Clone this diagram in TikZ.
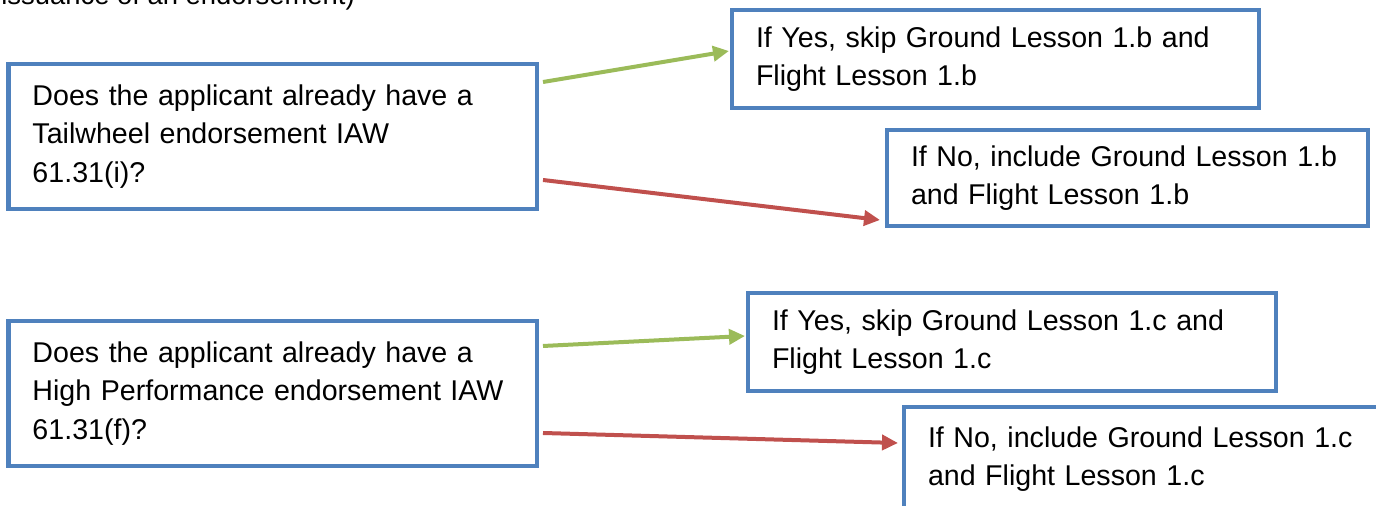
\documentclass[tikz,border=0pt]{standalone}
\usepackage{fontspec}
\setmainfont{Liberation Sans}
\usepackage{xcolor}
\usetikzlibrary{arrows.meta, positioning, calc}

\definecolor{boxblue}{HTML}{4F81BD}
\definecolor{yesgreen}{HTML}{9BBB59}
\definecolor{nored}{HTML}{C0504D}

\begin{document}
\begin{tikzpicture}[
    x=0.5pt, y=-0.5pt,
    font=\fontsize{14.3pt}{19.3pt}\selectfont,
    qbox/.style={draw=boxblue, line width=2.25pt, fill=white, anchor=north west, outer sep=0pt,
        inner xsep=12pt, align=left, minimum width=264.25pt, minimum height=72.5pt, text width=240.25pt},
    ansbox/.style={draw=boxblue, line width=2.25pt, fill=white, anchor=north west, outer sep=0pt,
        inner xsep=12pt, align=left},
    yesarrow/.style={-{Triangle[length=8pt, width=7.5pt]}, line width=2pt, color=yesgreen},
    noarrow/.style={-{Triangle[length=8pt, width=7.5pt]}, line width=2pt, color=nored}
]
\clip (0,0) rectangle (1376,506);

% === TEXT CUT AT THE TOP ===
\node[anchor=base west, inner sep=0pt, font=\fontsize{13.7pt}{17pt}\selectfont] (topnote) at (1,5)
    {issuance of an endorsement)};

% === TAILWHEEL QUESTION ===
\node[qbox] (q1) at (8.5,64) {Does the applicant already have a\\Tailwheel endorsement IAW\\61.31(i)?};
\node[ansbox, minimum width=263.5pt, minimum height=49pt, text width=239.5pt] (yes1) at (732,10)
    {If Yes, skip Ground Lesson 1.b and\\Flight Lesson 1.b};
\node[ansbox, minimum width=240.5pt, minimum height=48pt, text width=216.5pt] (no1) at (887,130)
    {If No, include Ground Lesson 1.b\\and Flight Lesson 1.b};

% === HIGH PERFORMANCE QUESTION ===
\node[qbox] (q2) at (8.5,321) {Does the applicant already have a\\High Performance endorsement IAW\\61.31(f)?};
\node[ansbox, minimum width=264pt, minimum height=49pt, text width=240pt] (yes2) at (748,293)
    {If Yes, skip Ground Lesson 1.c and\\Flight Lesson 1.c};
\node[ansbox, minimum width=240.5pt, minimum height=52pt, text width=216.5pt] (no2) at (904,407)
    {If No, include Ground Lesson 1.c\\and Flight Lesson 1.c};

% === ARROWS ===
\draw[yesarrow] ($(q1.north east)+(6,18)$) -- ($(yes1.west)+(-3,-8)$);
\draw[noarrow] ($(q1.south east)+(6,-29)$) -- ($(no1.south west)+(-7,-6)$);
\draw[yesarrow] ($(q2.north east)+(6,25)$) -- ($(yes2.west)+(-3,-6)$);
\draw[noarrow] ($(q2.south east)+(6,-33)$) -- ($(no2.north west)+(-6,36)$);

\end{tikzpicture}
\end{document}
